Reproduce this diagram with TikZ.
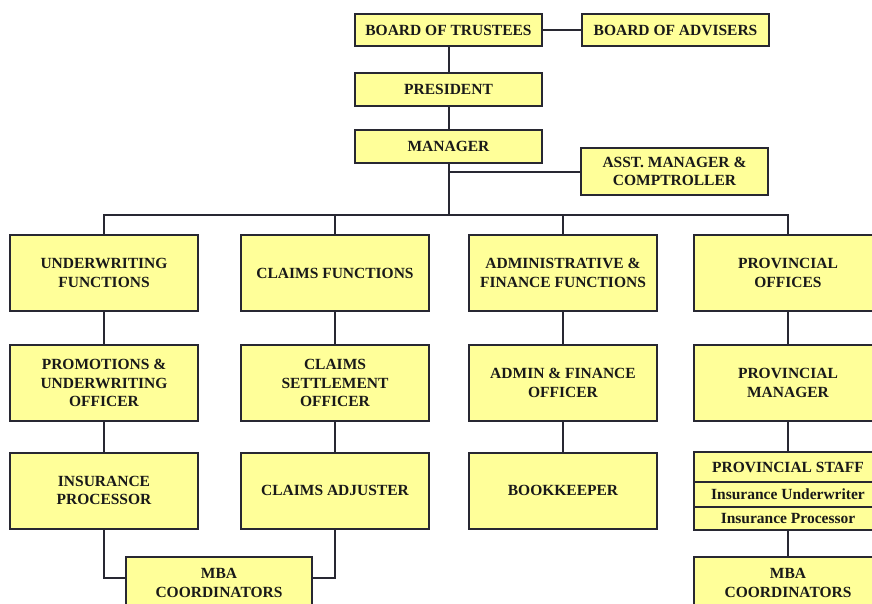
\documentclass[tikz,border=0pt]{standalone}
\usepackage{fontspec}
\setmainfont{Liberation Serif}
\usetikzlibrary{calc}
\definecolor{boxfill}{RGB}{255,255,153}
\definecolor{boxline}{RGB}{40,40,50}

\begin{document}
\begin{tikzpicture}[x=1pt,y=-1pt,
  post/.style={draw=boxline, line width=2pt, fill=boxfill, align=center, inner sep=2pt,
    font=\fontsize{15.5}{18.5}\selectfont\bfseries, text=black!90},
  small/.style={post, minimum width=187pt, minimum height=33pt},
  big/.style={post, minimum width=188pt, minimum height=76pt},
  staff/.style={post, minimum width=188pt},
  link/.style={draw=boxline, line width=2pt}]
\useasboundingbox (0,0) rectangle (872,603);
% top
\node[small, minimum height=32pt] (bot) at (448.5,30) {BOARD OF TRUSTEES};
\node[small, minimum height=32pt] (boa) at (675.5,30) {BOARD OF ADVISERS};
\node[small] (pres) at (448.5,89.5) {PRESIDENT};
\node[small] (man) at (448.5,146.5) {MANAGER};
\node[small, minimum height=47pt] (asst) at (674.5,171.5) {ASST. MANAGER \&\\COMPTROLLER};
% functions
\node[big] (uw) at (104,273) {UNDERWRITING\\FUNCTIONS};
\node[big] (cf) at (335,273) {CLAIMS FUNCTIONS};
\node[big] (af) at (563,273) {ADMINISTRATIVE \&\\FINANCE FUNCTIONS};
\node[big] (po) at (788,273) {PROVINCIAL\\OFFICES};
% officers
\node[big] (puo) at (104,383) {PROMOTIONS \&\\UNDERWRITING\\OFFICER};
\node[big] (cso) at (335,383) {CLAIMS\\SETTLEMENT\\OFFICER};
\node[big] (afo) at (563,383) {ADMIN \& FINANCE\\OFFICER};
\node[big] (pm) at (788,383) {PROVINCIAL\\MANAGER};
% staff
\node[big] (ip) at (104,490.5) {INSURANCE\\PROCESSOR};
\node[big] (ca) at (335,490.5) {CLAIMS ADJUSTER};
\node[big] (bk) at (563,490.5) {BOOKKEEPER};
\node[staff, minimum height=30pt] (ps) at (788,467) {PROVINCIAL STAFF};
\node[staff, minimum height=25pt] (psu) at (788,494.5) {Insurance Underwriter};
\node[staff, minimum height=23pt] (psp) at (788,518.5) {Insurance Processor};
% coordinators
\node[post, minimum width=186pt, minimum height=52pt] (mba1) at (219,583) {MBA\\COORDINATORS};
\node[post, minimum width=188pt, minimum height=52pt] (mba2) at (788,583) {MBA\\COORDINATORS};
% links
\coordinate (bus) at (448.5,215);
\draw[link] (bot) -- (boa);
\draw[link] (bot) -- (pres);
\draw[link] (pres) -- (man);
\draw[link] (man) -- (bus);
\draw[link] (asst.west) -- (asst.west -| man.south);
\draw[link] (uw.north) |- (bus) -| (po.north);
\draw[link] (cf.north) -- (cf.north |- bus);
\draw[link] (af.north) -- (af.north |- bus);
\draw[link] (uw) -- (puo) -- (ip);
\draw[link] (cf) -- (cso) -- (ca);
\draw[link] (af) -- (afo) -- (bk);
\draw[link] (po) -- (pm) -- (ps);
\draw[link] (psp) -- (mba2);
\draw[link] (ip.south) |- ($(mba1.west)+(0,-5)$);
\draw[link] (ca.south) |- ($(mba1.east)+(0,-5)$);
\end{tikzpicture}
\end{document}
